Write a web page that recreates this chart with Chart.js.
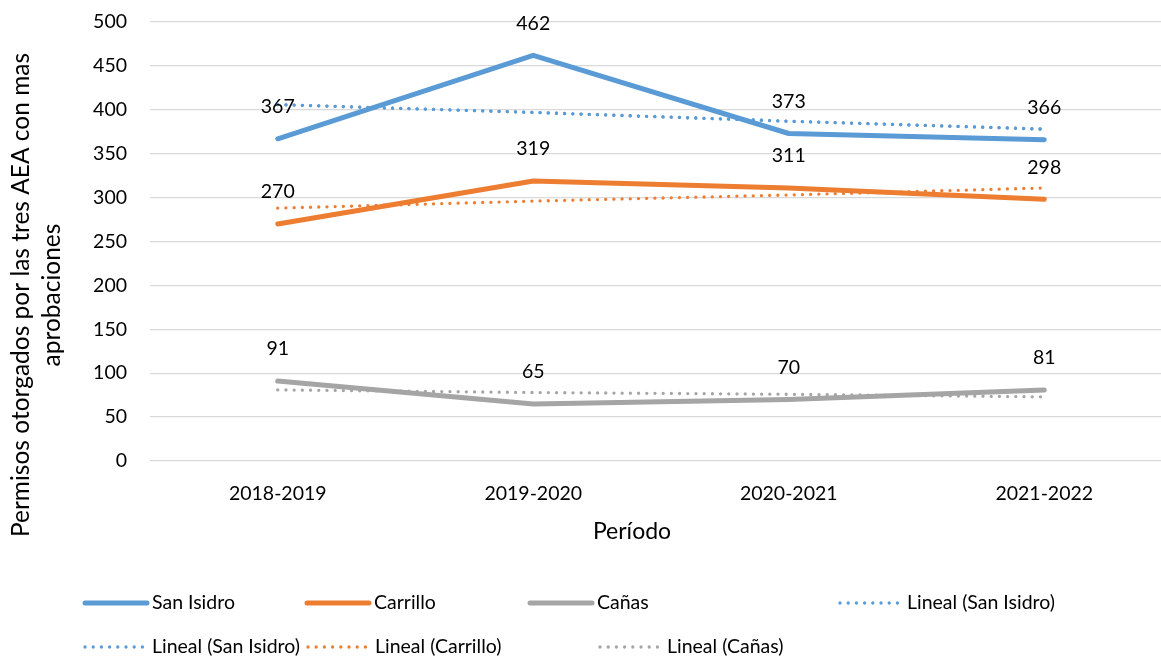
<!DOCTYPE html>
<html>
<head>
<meta charset="utf-8">
<script src="https://cdn.jsdelivr.net/npm/chart.js@4.4.1/dist/chart.umd.min.js"></script>
<style>
html, body { margin: 0; padding: 0; background: #fff; overflow: hidden; }
#wrap { width: 1172px; height: 661px; position: relative; }
</style>
</head>
<body>
<div id="wrap"><canvas id="myChart"></canvas></div>
<script>
const periods = ["2018-2019", "2019-2020", "2020-2021", "2021-2022"];
const sanIsidro = [367, 462, 373, 366];
const carrillo = [270, 319, 311, 298];
const canas = [91, 65, 70, 81];
// linear trend lines
const trendSanIsidro = [406, 397, 387, 378];
const trendCarrillo = [288, 296, 303, 311];
const trendCanas = [81, 78, 76, 73];
const yTitle = ["Permisos otorgados por las tres AEA con mas", "aprobaciones"];
const xTitle = "Período";

const BLUE = "#5B9BD5";
const ORANGE = "#ED7D31";
const GRAY = "#A5A5A5";
const FONT = "Lato";

function solid(label, data, color) {
    return {label, data, borderColor: color, backgroundColor: color, borderWidth: 5,
        borderCapStyle: "round", borderJoinStyle: "round", pointRadius: 0, tension: 0,
        showValues: true, order: 2};
}
function dotted(label, data, color) {
    return {label, data, borderColor: color, backgroundColor: color, borderWidth: 3.3,
        borderDash: [0.001, 8.2], borderCapStyle: "round", pointRadius: 0, tension: 0, order: 1};
}

const valueLabels = {
    id: "valueLabels",
    afterDatasetsDraw(chart) {
        const ctx = chart.ctx;
        ctx.save();
        ctx.font = "19.5px " + FONT;
        ctx.fillStyle = "#000";
        ctx.textAlign = "center";
        ctx.textBaseline = "middle";
        chart.data.datasets.forEach((ds, i) => {
            if (!ds.showValues) return;
            chart.getDatasetMeta(i).data.forEach((pt, j) => {
                ctx.fillText(String(ds.data[j]), pt.x, pt.y - 32);
            });
        });
        ctx.restore();
    }
};

// axis titles drawn by hand so they sit where the original puts them
const axisTitles = {
    id: "axisTitles",
    afterDraw(chart) {
        const ctx = chart.ctx;
        ctx.save();
        ctx.fillStyle = "#000";
        ctx.textAlign = "center";
        ctx.textBaseline = "middle";
        ctx.font = "23px " + FONT;
        ctx.fillText(xTitle, 632, 532);
        ctx.font = "24.5px " + FONT;
        ctx.translate(0, 295);
        ctx.rotate(-Math.PI / 2);
        yTitle.forEach((line, k) => ctx.fillText(line, 0, 21 + k * 31));
        ctx.restore();
    }
};

const legendSlots = [[85, 603], [307, 603], [530, 603], [840, 603], [85, 647], [308, 647], [600, 647]];
const bottomLegend = {
    id: "bottomLegend",
    afterDraw(chart) {
        const ctx = chart.ctx;
        ctx.save();
        ctx.font = "19.5px " + FONT;
        ctx.textBaseline = "middle";
        chart.data.datasets.forEach((ds, i) => {
            const [x, y] = legendSlots[i];
            ctx.beginPath();
            ctx.strokeStyle = ds.borderColor;
            ctx.lineWidth = ds.borderWidth;
            ctx.lineCap = "round";
            ctx.setLineDash(ds.borderDash || []);
            ctx.moveTo(x, y);
            ctx.lineTo(x + 62, y);
            ctx.stroke();
            ctx.setLineDash([]);
            ctx.fillStyle = "#000";
            ctx.fillText(ds.label, x + 67, y);
        });
        ctx.restore();
    }
};

new Chart(document.getElementById("myChart"), {
    type: "line",
    data: {
        labels: periods,
        datasets: [
            solid("San Isidro", sanIsidro, BLUE),
            solid("Carrillo", carrillo, ORANGE),
            solid("Cañas", canas, GRAY),
            dotted("Lineal (San Isidro)", trendSanIsidro, BLUE),
            dotted("Lineal (San Isidro)", trendSanIsidro, BLUE),
            dotted("Lineal (Carrillo)", trendCarrillo, ORANGE),
            dotted("Lineal (Cañas)", trendCanas, GRAY)
        ]
    },
    options: {
        responsive: true,
        maintainAspectRatio: false,
        animation: false,
        layout: {padding: {top: 22, right: 0, bottom: 116, left: 0}},
        plugins: {legend: {display: false}, tooltip: {enabled: false}},
        scales: {
            x: {
                offset: true,
                grid: {display: false, drawTicks: false},
                border: {display: false},
                ticks: {color: "#000", font: {family: FONT, size: 19.5}, padding: 21},
                afterFit(scale) { scale.height = 84; }
            },
            y: {
                min: 0,
                max: 500,
                ticks: {stepSize: 50, color: "#000", font: {family: FONT, size: 19.5}, padding: 23},
                grid: {color: "#D9D9D9", lineWidth: 1.3, drawTicks: false},
                border: {display: false},
                afterFit(scale) { scale.width = 150; scale.paddingTop = 0; }
            }
        }
    },
    plugins: [valueLabels, axisTitles, bottomLegend]
});
</script>
</body>
</html>
